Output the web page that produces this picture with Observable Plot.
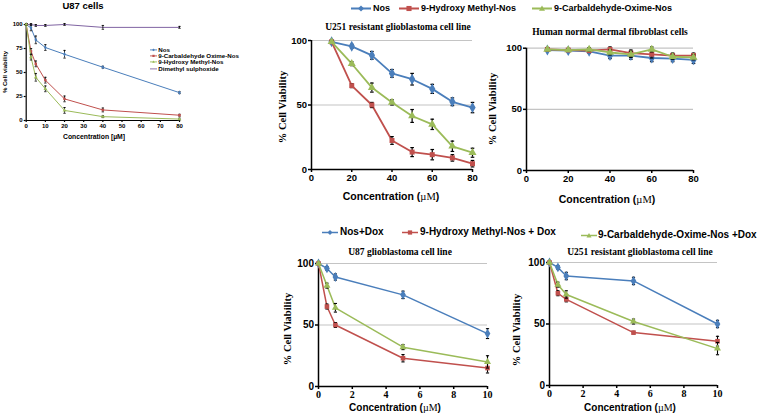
<!DOCTYPE html>
<html><head><meta charset="utf-8">
<script src="https://cdn.jsdelivr.net/npm/d3@7"></script>
<script src="https://cdn.jsdelivr.net/npm/@observablehq/plot@0.6"></script>
<style>
body{margin:0;background:#fff;}
#root{position:relative;width:758px;height:414px;overflow:hidden;font-family:"Liberation Sans",Arial,sans-serif;color:#000;}
.t{position:absolute;white-space:nowrap;transform:translate(-50%,-50%);font-weight:bold;line-height:1;}
.serif{font-family:"Liberation Serif","Times New Roman",serif;}
.rot{transform:translate(-50%,-50%) rotate(-90deg);}
.lg{position:absolute;white-space:nowrap;font-weight:bold;line-height:1;display:flex;align-items:center;transform:translateY(-50%);}
.mu{font-family:"Liberation Serif","Times New Roman",serif;font-weight:normal;}
</style></head><body><div id="root"></div>
<script>
// ---------- DATA ----------
// Panel A: U87 cells
const u87Conc = [0, 2.5, 5, 10, 20, 40, 80];
const u87Nos = [100, 96.5, 84, 76, 69, 55.5, 29];
const u87NosErr = [1, 3, 4, 3, 4, 1, 1];
const u87Carb = [100, 72, 59, 42, 22.5, 11, 5.5];
const u87CarbErr = [1, 3, 3, 3, 3, 2, 1];
const u87Hydr = [100, 66, 45, 33, 10.5, 4, 1.5];
const u87HydrErr = [1, 3, 4, 3, 3, 1, 1];
const u87Dmso = [100, 100, 99, 99, 100, 97, 97];
const u87DmsoErr = [1, 1, 1, 1, 1, 2, 1];
const u87Labels = ["Nos", "9-Carbaldehyde Oxime-Nos", "9-Hydroxy Methyl-Nos", "Dimethyl sulphoxide"];

// Panel B/C concentrations
const concB = [10, 20, 30, 40, 50, 60, 70, 80];
// Panel B: U251 resistant glioblastoma
const u251Nos = [99, 95.5, 88.5, 74.5, 70, 62.5, 52.5, 48];
const u251NosErr = [1, 1.5, 3, 3, 4.5, 3.5, 3, 4];
const u251Hydr = [99, 65, 50, 22.5, 13.5, 11.5, 9, 4.5];
const u251HydrErr = [1, 1.5, 2, 3, 3.5, 4, 2.5, 2.5];
const u251Carb = [99, 82, 63.5, 52, 41.5, 35, 18, 13];
const u251CarbErr = [1, 1.5, 3.5, 2, 5, 4, 4, 3.5];
// Panel C: human normal dermal fibroblasts
const fibNos = [98.5, 98, 97.5, 94, 94, 92, 91.5, 90.5];
const fibNosErr = [1, 1, 1.5, 2.5, 3, 3, 2.5, 3];
const fibHydr = [99, 98.5, 98, 99, 96, 95, 94, 94];
const fibHydrErr = [1, 1, 1.5, 2, 2.5, 3, 2, 2];
const fibCarb = [99, 98.5, 99, 96.5, 95, 99, 93, 92.5];
const fibCarbErr = [1, 1, 1.5, 2, 2.5, 2, 2, 2];
const topLabels = ["Nos", "9-Hydroxy Methyl-Nos", "9-Carbaldehyde-Oxime-Nos"];

// Panels D/E concentrations
const concD = [0, 0.5, 1, 5, 10];
// Panel D: U87 glioblastoma + Dox
const u87dNos = [100, 96, 89, 74.5, 43];
const u87dNosErr = [0, 1.5, 2.5, 3, 4];
const u87dHydr = [100, 65, 50, 23, 15];
const u87dHydrErr = [0, 2, 2, 3, 4];
const u87dCarb = [100, 82, 64, 32, 20];
const u87dCarbErr = [0, 2, 3.5, 2, 5];
// Panel E: U251 resistant + Dox
const u251dNos = [100, 96, 89, 85, 50];
const u251dNosErr = [0, 1.5, 3, 3, 3];
const u251dHydr = [100, 75, 70, 43, 36];
const u251dHydrErr = [0, 2, 2, 1, 4];
const u251dCarb = [100, 82, 74, 52, 30];
const u251dCarbErr = [0, 2, 3, 2, 5];
const botLabels = ["Nos+Dox", "9-Hydroxy Methyl-Nos + Dox", "9-Carbaldehyde-Oxime-Nos +Dox"];

// ---------- STYLE ----------
const BLUE = "#4a7ebb", RED = "#c0504d", GREEN = "#9bbb59", PURPLE = "#8064a2";
const root = document.getElementById("root");

const capSym = w => ({draw(ctx) { ctx.moveTo(-w, 0); ctx.lineTo(w, 0); }});

function panel(o) {
  const [bx, by, bw, bh] = o.box, [fx0, fy0, fx1, fy1] = o.frame;
  const marks = [];
  if (o.grid) marks.push(Plot.gridY(o.grid, {stroke: "#c4c4c4", strokeOpacity: 1, strokeWidth: 1.2}));
  marks.push(Plot.ruleX([o.xDomain[0]], {stroke: "black", strokeWidth: o.axisW}));
  marks.push(Plot.ruleY([0], {stroke: "black", strokeWidth: o.axisW}));
  marks.push(Plot.axisY(o.yTicks, {tickSize: o.tickSize, tickPadding: 1.5, label: null, fontWeight: "bold", fontSize: o.fs, fontFamily: "Liberation Sans, Arial, sans-serif", strokeWidth: o.axisW}));
  marks.push(Plot.axisX(o.xTicks, {tickSize: o.tickSize, tickPadding: 1.5, label: null, fontWeight: "bold", fontSize: o.xfs || o.fs, fontFamily: o.xFont || "Liberation Sans, Arial, sans-serif", strokeWidth: o.axisW}));
  for (const s of o.series) {
    const rows = s.x.map((x, i) => ({x, y: s.y[i], lo: s.y[i] - s.e[i], hi: s.y[i] + s.e[i]}));
    marks.push(Plot.line(rows, {x: "x", y: "y", stroke: s.color, strokeWidth: o.lw}));
    const eb = rows.filter(d => d.hi > d.lo);
    marks.push(Plot.ruleX(eb, {x: "x", y1: "lo", y2: "hi", stroke: "black", strokeWidth: o.ebW}));
    marks.push(Plot.dot(eb, {x: "x", y: "lo", symbol: capSym(o.capW), stroke: "black", fill: "none", strokeWidth: o.ebW}));
    marks.push(Plot.dot(eb, {x: "x", y: "hi", symbol: capSym(o.capW), stroke: "black", fill: "none", strokeWidth: o.ebW}));
    if (s.symbol !== "none") marks.push(Plot.dot(rows, {x: "x", y: "y", symbol: s.symbol, fill: s.color, stroke: "none", r: s.r}));
  }
  const svg = Plot.plot({
    width: bw, height: bh,
    marginLeft: fx0 - bx, marginTop: fy0 - by, marginRight: bx + bw - fx1, marginBottom: by + bh - fy1,
    x: {domain: o.xDomain, label: null}, y: {domain: [0, 100], label: null},
    style: {background: "transparent", overflow: "visible"},
    marks
  });
  svg.style.position = "absolute";
  svg.style.left = bx + "px"; svg.style.top = by + "px";
  root.appendChild(svg);
}

function text(str, x, y, size, cls = "", html = false) {
  const d = document.createElement("div");
  d.className = "t " + cls;
  d.style.left = x + "px"; d.style.top = y + "px"; d.style.fontSize = size + "px";
  if (html) d.innerHTML = str; else d.textContent = str;
  root.appendChild(d);
}

function swatch(color, shape, len, ms, lw) {
  const h = Math.max(ms * 2 + 2, 6), c = len / 2, m = h / 2;
  let mk = "";
  if (shape === "diamond") mk = `<path d="M${c},${m - ms} L${c + ms},${m} L${c},${m + ms} L${c - ms},${m} Z" fill="${color}"/>`;
  else if (shape === "square") mk = `<rect x="${c - ms * 0.85}" y="${m - ms * 0.85}" width="${ms * 1.7}" height="${ms * 1.7}" fill="${color}"/>`;
  else if (shape === "triangle") mk = `<path d="M${c},${m - ms} L${c + ms},${m + ms * 0.75} L${c - ms},${m + ms * 0.75} Z" fill="${color}"/>`;
  return `<svg width="${len}" height="${h}" style="display:block"><line x1="0" x2="${len}" y1="${m}" y2="${m}" stroke="${color}" stroke-width="${lw}"/>${mk}</svg>`;
}

function legendItem(x, y, color, shape, label, size, len, ms, lw, gap) {
  const d = document.createElement("div");
  d.className = "lg";
  d.style.left = x + "px"; d.style.top = y + "px"; d.style.fontSize = size + "px";
  d.innerHTML = swatch(color, shape, len, ms, lw) + `<span style="margin-left:${gap}px">${label}</span>`;
  root.appendChild(d);
}

// ---------- Panel A ----------
panel({
  box: [0, 14, 200, 120], frame: [25.7, 24, 179, 120],
  xDomain: [0, 80], xTicks: d3.range(0, 81, 10), yTicks: [0, 25, 50, 75, 100],
  fs: 6, tickSize: 2, axisW: 1.2, lw: 1, ebW: 0.8, capW: 1.2,
  series: [
    {x: u87Conc, y: u87Dmso, e: u87DmsoErr, color: PURPLE, symbol: "none", r: 1},
    {x: u87Conc, y: u87Nos, e: u87NosErr, color: BLUE, symbol: "diamond", r: 1.4},
    {x: u87Conc, y: u87Carb, e: u87CarbErr, color: RED, symbol: "square", r: 1.4},
    {x: u87Conc, y: u87Hydr, e: u87HydrErr, color: GREEN, symbol: "triangle", r: 1.4}
  ]
});
text("U87 cells", 83, 6, 9.5);
text("Concentration [µM]", 94, 137, 6.8);
text("% Cell viability", 5, 72, 6, "rot");
[[BLUE, "diamond"], [RED, "square"], [GREEN, "triangle"], [PURPLE, "none"]].forEach(([c, sh], i) =>
  legendItem(150, 50 + i * 6.2, c, sh, u87Labels[i], 6.2, 7, 1.3, 0.9, 1.2));

// ---------- Panel B ----------
panel({
  box: [290, 32, 200, 160], frame: [311, 40, 472, 169],
  xDomain: [0, 80], xTicks: [0, 20, 40, 60, 80], yTicks: [0, 50, 100], grid: [50, 100],
  fs: 9.5, tickSize: 3, axisW: 1.5, lw: 1.8, ebW: 1.2, capW: 1.8,
  series: [
    {x: concB, y: u251Nos, e: u251NosErr, color: BLUE, symbol: "diamond", r: 3.3},
    {x: concB, y: u251Hydr, e: u251HydrErr, color: RED, symbol: "square", r: 2.8},
    {x: concB, y: u251Carb, e: u251CarbErr, color: GREEN, symbol: "triangle", r: 3}
  ]
});
text("U251 resistant glioblastoma cell line", 398, 28, 9.5, "serif");
text("% Cell Viability", 283, 107, 10.5, "serif rot");
text('Concentration (<span class="mu">µM</span>)', 391, 197, 10.5, "", true);

// ---------- Panel C ----------
panel({
  box: [505, 38, 253, 155], frame: [526, 47.7, 693, 170],
  xDomain: [0, 80], xTicks: [0, 20, 40, 60, 80], yTicks: [0, 50, 100], grid: [50, 100],
  fs: 9.5, tickSize: 3, axisW: 1.5, lw: 1.8, ebW: 1.2, capW: 1.8,
  series: [
    {x: concB, y: fibNos, e: fibNosErr, color: BLUE, symbol: "diamond", r: 3.3},
    {x: concB, y: fibHydr, e: fibHydrErr, color: RED, symbol: "square", r: 2.8},
    {x: concB, y: fibCarb, e: fibCarbErr, color: GREEN, symbol: "triangle", r: 3}
  ]
});
text("Human normal dermal fibroblast cells", 610, 33, 9.5, "serif");
text("% Cell Viability", 493, 109, 10.5, "serif rot");
text('Concentration (<span class="mu">µM</span>)', 607, 200, 10.5, "", true);

// top legend
legendItem(351, 8, BLUE, "diamond", topLabels[0], 9, 20, 3, 1.8, 2);
legendItem(399, 8, RED, "square", topLabels[1], 9, 20, 3, 1.8, 2);
legendItem(532, 8, GREEN, "triangle", topLabels[2], 9, 20, 3, 1.8, 2);

// ---------- Panel D ----------
panel({
  box: [295, 256, 200, 150], frame: [318, 263, 487, 386],
  xDomain: [0, 10], xTicks: [0, 2, 4, 6, 8, 10], yTicks: [0, 50, 100], grid: [50, 100],
  fs: 10, xfs: 10, xFont: "Liberation Serif, Times New Roman, serif", tickSize: 3, axisW: 1.5, lw: 1.5, ebW: 1.1, capW: 1.6,
  series: [
    {x: concD, y: u87dNos, e: u87dNosErr, color: BLUE, symbol: "diamond", r: 3},
    {x: concD, y: u87dHydr, e: u87dHydrErr, color: RED, symbol: "square", r: 2.6},
    {x: concD, y: u87dCarb, e: u87dCarbErr, color: GREEN, symbol: "triangle", r: 2.6}
  ]
});
text("U87 glioblastoma cell line", 400, 253, 9.5, "serif");
text("% Cell Viability", 288, 329, 10.5, "serif rot");
text('Concentration (<span class="mu">µM</span>)', 395, 408, 10, "", true);

// ---------- Panel E ----------
panel({
  box: [525, 256, 233, 150], frame: [549, 262, 717, 385],
  xDomain: [0, 10], xTicks: [0, 2, 4, 6, 8, 10], yTicks: [0, 50, 100], grid: [50, 100],
  fs: 10, xfs: 10, xFont: "Liberation Serif, Times New Roman, serif", tickSize: 3, axisW: 1.5, lw: 1.5, ebW: 1.1, capW: 1.6,
  series: [
    {x: concD, y: u251dNos, e: u251dNosErr, color: BLUE, symbol: "diamond", r: 3},
    {x: concD, y: u251dHydr, e: u251dHydrErr, color: RED, symbol: "square", r: 2.6},
    {x: concD, y: u251dCarb, e: u251dCarbErr, color: GREEN, symbol: "triangle", r: 2.6}
  ]
});
text("U251 resistant glioblastoma cell line", 640, 253, 9.5, "serif");
text("% Cell Viability", 517, 330, 10.5, "serif rot");
text('Concentration (<span class="mu">µM</span>)', 630, 408, 10, "", true);

// bottom legend
legendItem(322, 232, BLUE, "diamond", botLabels[0], 10, 16, 2.5, 1.5, 2);
legendItem(402, 232, RED, "square", botLabels[1], 10, 16, 2.5, 1.5, 2);
legendItem(581, 235, GREEN, "triangle", botLabels[2], 10, 16, 2.5, 1.5, 1);
</script></body></html>
